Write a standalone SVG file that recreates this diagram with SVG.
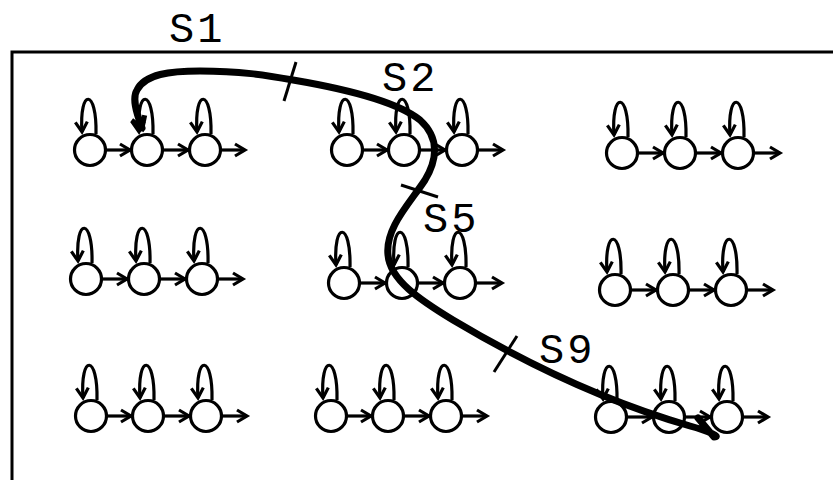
<svg xmlns="http://www.w3.org/2000/svg" width="833" height="480" viewBox="0 0 833 480">
<style>
.edge{fill:none;stroke:#000;stroke-width:3.2;marker-end:url(#ah)}
.lbl{font-family:"Liberation Mono","DejaVu Sans Mono",monospace;font-size:42px;fill:#000;letter-spacing:3px}
.frame{fill:none;stroke:#000;stroke-width:3}
.tick{fill:none;stroke:#000;stroke-width:3}
.big{fill:none;stroke:#000;stroke-width:7;stroke-linecap:round;stroke-linejoin:round}
</style>
<defs>
<marker id="ah" viewBox="-14 -9 18 18" refX="0" refY="0" markerWidth="18" markerHeight="18" markerUnits="userSpaceOnUse" orient="auto">
<path d="M-10,-6 L0,0 L-10,6" fill="none" stroke="#000" stroke-width="3.2"/>
</marker>
<marker id="ahbig" viewBox="-16 -12 22 24" refX="0" refY="0" markerWidth="22" markerHeight="24" markerUnits="userSpaceOnUse" orient="auto-start-reverse">
<path d="M-11,-7 L0,0 L-11,7" fill="none" stroke="#000" stroke-width="5"/>
</marker>
<g id="state">
<path d="M6,-16 C7,-62 -11,-62 -8,-18" fill="none" stroke="#000" stroke-width="3.2" marker-end="url(#ah)"/>
<circle r="15.5" cx="0" cy="0" fill="#fff" stroke="#000" stroke-width="3.2"/>
</g>
</defs>
<path class="frame" d="M12,480 L12,52 L833,52"/>
<g id="labels">
<text class="lbl" x="169" y="42">S1</text>
<text class="lbl" x="382" y="91">S2</text>
<text class="lbl" x="423" y="232">S5</text>
<text class="lbl" x="539" y="363">S9</text>
</g>
<g id="n11"><use href="#state" x="90" y="150"/></g>
<g id="n12"><use href="#state" x="147" y="150"/></g>
<g id="n13"><use href="#state" x="205" y="150"/></g>
<g id="n21"><use href="#state" x="347" y="150"/></g>
<g id="n22"><use href="#state" x="404" y="150"/></g>
<g id="n23"><use href="#state" x="462" y="150"/></g>
<g id="n31"><use href="#state" x="622" y="153"/></g>
<g id="n32"><use href="#state" x="680" y="153"/></g>
<g id="n33"><use href="#state" x="738" y="153"/></g>
<g id="n41"><use href="#state" x="86" y="279"/></g>
<g id="n42"><use href="#state" x="144" y="279"/></g>
<g id="n43"><use href="#state" x="202" y="279"/></g>
<g id="n51"><use href="#state" x="344" y="283"/></g>
<g id="n52"><use href="#state" x="402" y="283"/></g>
<g id="n53"><use href="#state" x="460" y="283"/></g>
<g id="n61"><use href="#state" x="615" y="290"/></g>
<g id="n62"><use href="#state" x="673" y="290"/></g>
<g id="n63"><use href="#state" x="731" y="290"/></g>
<g id="n71"><use href="#state" x="91" y="416"/></g>
<g id="n72"><use href="#state" x="148" y="416"/></g>
<g id="n73"><use href="#state" x="206" y="416"/></g>
<g id="n81"><use href="#state" x="331" y="416"/></g>
<g id="n82"><use href="#state" x="388" y="416"/></g>
<g id="n83"><use href="#state" x="446" y="416"/></g>
<g id="n91"><use href="#state" x="611" y="417"/></g>
<g id="n92"><use href="#state" x="669" y="417"/></g>
<g id="n93"><use href="#state" x="727" y="417"/></g>
<g id="connectors">
<path class="edge" d="M106,150 H130"/><path class="edge" d="M163,150 H188"/><path class="edge" d="M221,150 H245"/>
<path class="edge" d="M363,150 H387"/><path class="edge" d="M420,150 H445"/><path class="edge" d="M478,150 H503"/>
<path class="edge" d="M638,153 H663"/><path class="edge" d="M696,153 H721"/><path class="edge" d="M754,153 H780"/>
<path class="edge" d="M102,279 H127"/><path class="edge" d="M160,279 H185"/><path class="edge" d="M218,279 H243"/>
<path class="edge" d="M360,283 H385"/><path class="edge" d="M418,283 H443"/><path class="edge" d="M476,283 H502"/>
<path class="edge" d="M631,290 H656"/><path class="edge" d="M689,290 H714"/><path class="edge" d="M747,290 H773"/>
<path class="edge" d="M107,416 H131"/><path class="edge" d="M164,416 H189"/><path class="edge" d="M222,416 H247"/>
<path class="edge" d="M347,416 H371"/><path class="edge" d="M404,416 H429"/><path class="edge" d="M462,416 H487"/>
<path class="edge" d="M627,417 H652"/><path class="edge" d="M685,417 H710"/><path class="edge" d="M743,417 H768"/>
</g>
<g id="trajectory">
<path class="big" marker-start="url(#ahbig)" d="M142,128 C136,112 132,98 137,90 C145,74 170,71 200,71 C240,71 265,75 293,80 C340,88 395,100 420,120 C440,138 437,160 425,180 C410,203 385,228 388,255 C390,280 420,300 453,320 C520,360 600,400 690,426 C708,431 722,437 714,437 L698,418"/>
<path class="tick" d="M284,101 L296,62"/>
<path class="tick" d="M401,185 L438,197"/>
<path class="tick" d="M494,372 L517,336"/>
</g>
</svg>
